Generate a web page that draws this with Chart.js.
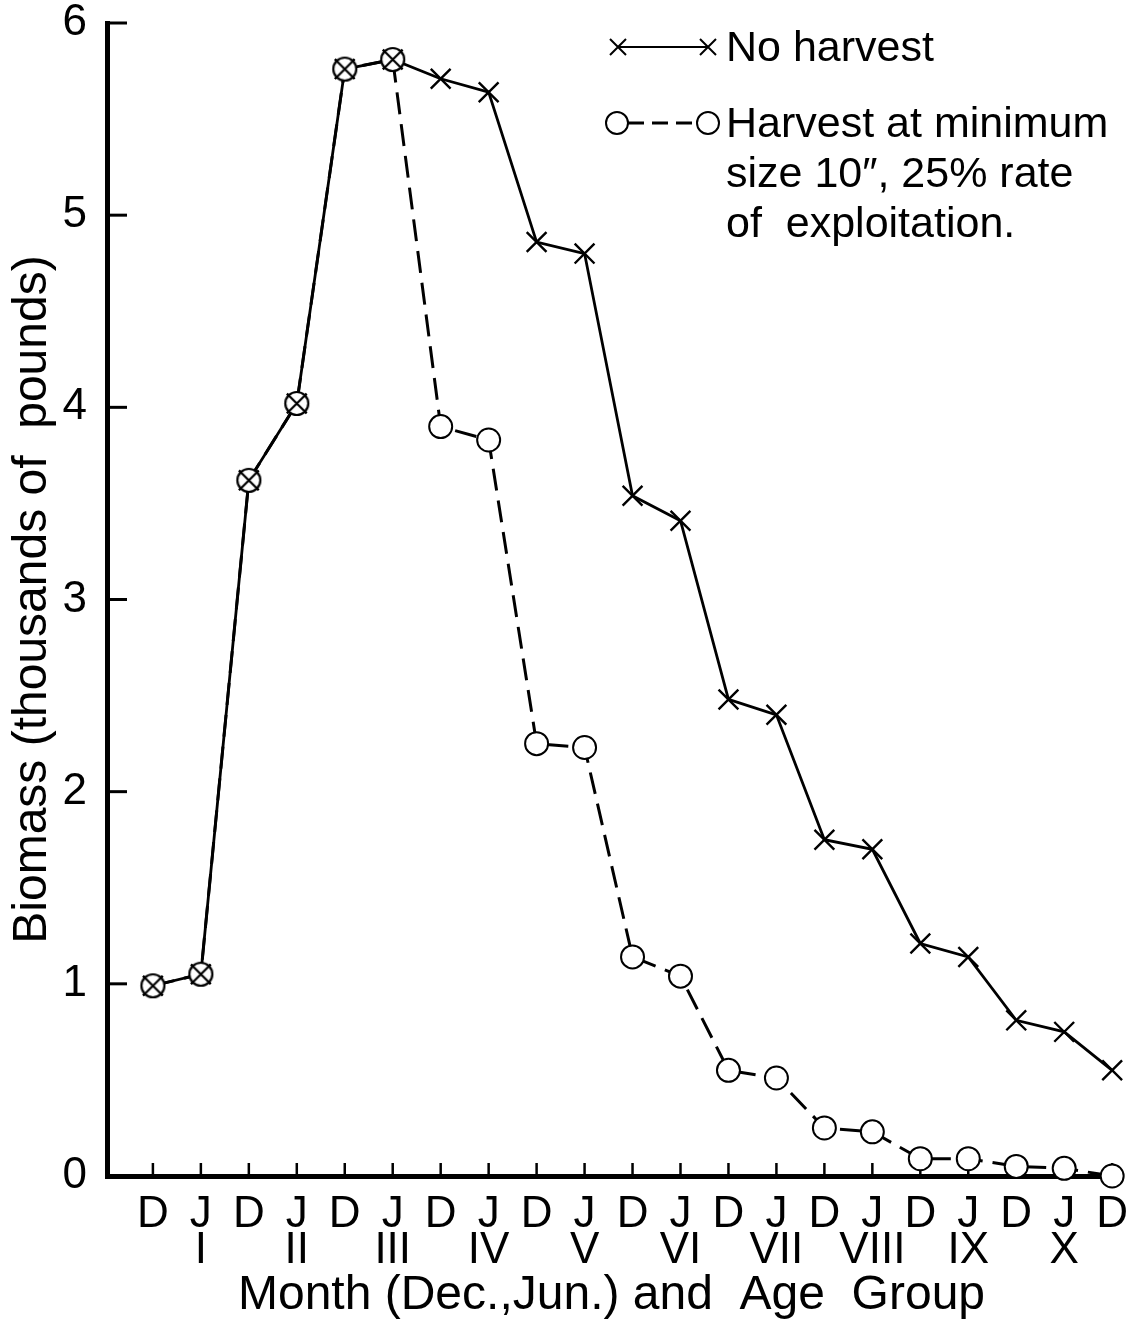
<!DOCTYPE html>
<html>
<head>
<meta charset="utf-8">
<script src="https://cdn.jsdelivr.net/npm/chart.js@4.4.1/dist/chart.umd.min.js"></script>
<style>
  html, body { margin: 0; padding: 0; background: #ffffff; }
  #wrap { width: 1136px; height: 1325px; position: relative; }
</style>
</head>
<body>
<div id="wrap"><canvas id="c"></canvas></div>
<script>
// ---- data ----
const months = ['D','J','D','J','D','J','D','J','D','J','D','J','D','J','D','J','D','J','D','J','D'];
const ageGroups = ['','I','','II','','III','','IV','','V','','VI','','VII','','VIII','','IX','','X',''];
const noHarvest = [0.99, 1.05, 3.62, 4.02, 5.76, 5.81, 5.71, 5.64, 4.86, 4.80, 3.54, 3.41, 2.48, 2.40, 1.75, 1.70, 1.21, 1.14, 0.81, 0.75, 0.55];
const harvest   = [0.99, 1.05, 3.62, 4.02, 5.76, 5.81, 3.90, 3.83, 2.25, 2.23, 1.14, 1.04, 0.55, 0.51, 0.25, 0.23, 0.09, 0.09, 0.05, 0.04, 0.00];
const yTicks = [0, 1, 2, 3, 4, 5, 6];
const seriesNames = ['No harvest', 'Harvest at minimum size 10\u2033, 25% rate of exploitation.'];
const legendLines2 = ['Harvest at minimum', 'size 10\u2033, 25% rate', 'of  exploitation.'];
const xTitle = 'Month (Dec.,Jun.) and  Age  Group';
const yTitle = 'Biomass (thousands of  pounds)';

const FONT = "'Liberation Sans', Arial, Helvetica, sans-serif";
const CIRCLE_R = 11.5;

// circle-with-cross marker for coinciding points
function makeCircleCross(r) {
  const size = Math.ceil(2 * r + 6);
  const cv = document.createElement('canvas');
  cv.width = size; cv.height = size;
  const g = cv.getContext('2d');
  const c = size / 2;
  g.fillStyle = '#fff';
  g.strokeStyle = '#000';
  g.lineWidth = 2.2;
  g.beginPath(); g.arc(c, c, r, 0, Math.PI * 2); g.fill(); g.stroke();
  const a = r * 0.72;
  g.beginPath();
  g.moveTo(c - a, c - a); g.lineTo(c + a, c + a);
  g.moveTo(c + a, c - a); g.lineTo(c - a, c + a);
  g.stroke();
  return cv;
}
const circleCross = makeCircleCross(CIRCLE_R);

const toPts = arr => arr.map((v, i) => ({ x: i, y: v }));

const tickPlugin = {
  id: 'innerTicks',
  beforeDatasetsDraw(chart) {
    const g = chart.ctx;
    const xs = chart.scales.x, ys = chart.scales.y;
    const ca = chart.chartArea;
    g.save();
    g.strokeStyle = '#000';
    g.lineWidth = 2.5;
    months.forEach((m, i) => {
      const px = xs.getPixelForValue(i);
      g.beginPath(); g.moveTo(px, ca.bottom); g.lineTo(px, ca.bottom - 13); g.stroke();
    });
    g.lineWidth = 3;
    yTicks.forEach(v => {
      const py = ys.getPixelForValue(v);
      g.beginPath(); g.moveTo(ca.left, py); g.lineTo(ca.left + 20, py); g.stroke();
    });
    g.restore();
  },
  afterDraw(chart) {
    const g = chart.ctx;
    g.save();
    g.strokeStyle = '#000';
    g.fillStyle = '#000';
    // entry 1: cross-line-cross
    const y1 = 47;
    g.lineWidth = 2;
    g.beginPath(); g.moveTo(618, y1); g.lineTo(708, y1); g.stroke();
    [618, 708].forEach(x => {
      const a = 8;
      g.beginPath();
      g.moveTo(x - a, y1 - a); g.lineTo(x + a, y1 + a);
      g.moveTo(x + a, y1 - a); g.lineTo(x - a, y1 + a);
      g.stroke();
    });
    // entry 2: circle-dash-circle
    const y2 = 123;
    g.lineWidth = 3;
    g.setLineDash([16, 8]);
    g.beginPath(); g.moveTo(628, y2); g.lineTo(697, y2); g.stroke();
    g.setLineDash([]);
    g.lineWidth = 2;
    [617, 708].forEach(x => {
      g.beginPath(); g.arc(x, y2, 11, 0, Math.PI * 2);
      g.fillStyle = '#fff'; g.fill(); g.stroke();
    });
    g.fillStyle = '#000';
    g.font = '43px ' + FONT;
    g.textBaseline = 'middle';
    g.textAlign = 'left';
    g.fillText(seriesNames[0], 726, y1 + 2);
    legendLines2.forEach((t, k) => g.fillText(t, 726, y2 + 2 + k * 50));
    g.restore();
  }
};

new Chart(document.getElementById('c'), {
  type: 'line',
  data: {
    datasets: [
      {
        label: seriesNames[1],
        data: toPts(harvest),
        order: 0,
        borderColor: '#000',
        borderWidth: 3,
        borderDash: [22, 10],
        fill: false,
        tension: 0,
        clip: false,
        pointRadius: CIRCLE_R,
        pointHoverRadius: CIRCLE_R,
        pointBorderWidth: 2,
        pointBorderColor: '#000',
        pointBackgroundColor: '#fff',
        pointStyle: ctx => (ctx.dataIndex !== undefined && harvest[ctx.dataIndex] === noHarvest[ctx.dataIndex]) ? circleCross : 'circle'
      },
      {
        label: seriesNames[0],
        data: toPts(noHarvest),
        order: 1,
        borderColor: '#000',
        borderWidth: 2.8,
        fill: false,
        tension: 0,
        clip: false,
        pointStyle: 'crossRot',
        pointRadius: 14,
        pointHoverRadius: 14,
        pointBorderWidth: 2.4,
        pointBorderColor: '#000',
        pointBackgroundColor: '#000'
      }
    ]
  },
  options: {
    responsive: true,
    maintainAspectRatio: false,
    animation: false,
    devicePixelRatio: 1,
    layout: { padding: { top: 23, right: 20, bottom: 0, left: 0 } },
    plugins: { legend: { display: false }, tooltip: { enabled: false } },
    scales: {
      x: {
        type: 'linear',
        min: -0.957,
        max: 20.08,
        afterBuildTicks: s => { s.ticks = months.map((m, i) => ({ value: i })); },
        afterFit: s => { s.height = 149; s.paddingLeft = 0; s.paddingRight = 0; },
        grid: { display: false, drawTicks: false },
        border: { display: true, color: '#000', width: 5 },
        ticks: {
          autoSkip: false,
          maxRotation: 0,
          padding: 21,
          color: '#000',
          font: { family: FONT, size: 44, lineHeight: '36px' },
          callback: (v) => [months[v], ageGroups[v]]
        },
        title: {
          display: true,
          text: xTitle,
          color: '#000',
          font: { family: FONT, size: 48 },
          padding: { top: 0, bottom: 0 }
        }
      },
      y: {
        type: 'linear',
        min: 0,
        max: 6,
        afterBuildTicks: s => { s.ticks = yTicks.map(v => ({ value: v })); },
        afterFit: s => { s.width = 107; s.paddingTop = 0; s.paddingBottom = 0; },
        grid: { display: false, drawTicks: false },
        border: { display: true, color: '#000', width: 5 },
        ticks: {
          padding: 20,
          color: '#000',
          font: { family: FONT, size: 44 }
        },
        title: {
          display: true,
          text: yTitle,
          color: '#000',
          font: { family: FONT, size: 48 },
          padding: { top: 4, bottom: 0 }
        }
      }
    }
  },
  plugins: [tickPlugin]
});
</script>
</body>
</html>
